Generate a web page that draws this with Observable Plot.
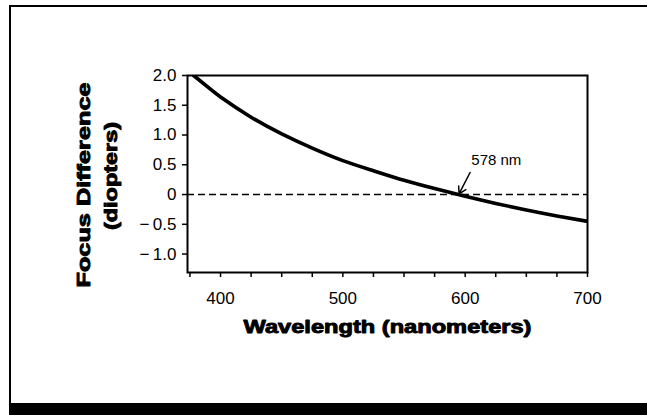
<!DOCTYPE html>
<html><head><meta charset="utf-8">
<script src="https://cdn.jsdelivr.net/npm/d3@7"></script>
<script src="https://cdn.jsdelivr.net/npm/@observablehq/plot@0.6"></script>
<style>
html,body{margin:0;padding:0;background:#fff;}
#wrap{position:relative;width:647px;height:415px;overflow:hidden;background:#fff;}
#chart{position:absolute;left:0;top:0;}
#frameL{position:absolute;left:9px;top:5px;width:2px;height:400px;background:#000;}
#frameT{position:absolute;left:9px;top:5px;width:638px;height:2px;background:#000;}
#band{position:absolute;left:9px;top:403px;width:638px;height:12px;background:#000;}
</style></head><body>
<div id="wrap"><div id="chart"></div><div id="frameL"></div><div id="frameT"></div><div id="band"></div></div>
<script>
// Data
const wavelength = [378, 390, 400, 425, 450, 475, 500, 525, 550, 575, 600, 625, 650, 675, 700];
const focusDiff  = [2.00, 1.80, 1.64, 1.30, 1.02, 0.78, 0.57, 0.40, 0.24, 0.10, -0.03, -0.15, -0.26, -0.36, -0.45];
const xMajorTicks = [400, 500, 600, 700];
const xMinorTicks = [375, 425, 450, 475, 525, 550, 575, 625, 650, 675];
const yTicks = [2.0, 1.5, 1.0, 0.5, 0, -0.5, -1.0];
const yTickLabels = ["2.0", "1.5", "1.0", "0.5", "0", "\u2212\u20090.5", "\u2212\u20091.0"];
const annotation = {text: "578 nm", x: 605, y: 0.57, ax1: 604, ay1: 0.37, ax2: 595, ay2: 0.01};
const xLabel = "Wavelength (nanometers)";
const yLabel1 = "Focus Difference";
const yLabel2 = "(diopters)";

const data = wavelength.map((w, i) => ({w, f: focusDiff[i]}));
const bold = {fontWeight: "bold", fontSize: 18, fill: "black", stroke: "black", strokeWidth: 0.9, textAnchor: "middle", lineAnchor: "middle"};

const chart = Plot.plot({
  width: 647, height: 415,
  marginLeft: 187, marginRight: 60, marginTop: 75, marginBottom: 143,
  style: {fontFamily: "'Liberation Sans', Arial, sans-serif", fontSize: "17px", color: "#000", background: "transparent", overflow: "visible"},
  x: {domain: [373, 700]},
  y: {domain: [-1.31, 2.0]},
  marks: [
    Plot.ruleY([0], {stroke: "black", strokeWidth: 1.6, strokeDasharray: "7,4"}),
    Plot.line(data, {x: "w", y: "f", curve: "natural", stroke: "black", strokeWidth: 3.6, clip: true}),
    Plot.frame({stroke: "black", strokeWidth: 2}),
    Plot.axisX({ticks: xMinorTicks, tickSize: 5, strokeWidth: 1.5, tickFormat: () => "", label: null}),
    Plot.axisX({ticks: xMajorTicks, tickSize: 5, strokeWidth: 1.5, tickPadding: 14, tickFormat: d => String(d), label: null}),
    Plot.axisY({ticks: yTicks, tickSize: 5, strokeWidth: 1.5, tickPadding: 6, tickFormat: d => yTickLabels[yTicks.indexOf(d)], label: null}),
    Plot.arrow([annotation], {x1: "ax1", y1: "ay1", x2: "ax2", y2: "ay2", stroke: "black", strokeWidth: 1.5, headLength: 9, bend: 0}),
    Plot.text([annotation], {x: "x", y: "y", text: "text", textAnchor: "start", fontSize: 15, fill: "black"}),
    Plot.text([xLabel], {frameAnchor: "bottom", dy: 55, text: d => d, ...bold}),
    Plot.text([yLabel1], {frameAnchor: "left", dx: -103, dy: 11, rotate: -90, text: d => d, ...bold}),
    Plot.text([yLabel2], {frameAnchor: "left", dx: -76, dy: 2, rotate: -90, text: d => d, ...bold})
  ]
});
document.getElementById("chart").appendChild(chart);
const lengths = {[xLabel]: 288, [yLabel1]: 205, [yLabel2]: 108};
d3.select(chart).selectAll("text").each(function() {
  const t = this.textContent;
  if (lengths[t]) d3.select(this).attr("textLength", lengths[t]).attr("lengthAdjust", "spacingAndGlyphs");
});
</script>
</body></html>
